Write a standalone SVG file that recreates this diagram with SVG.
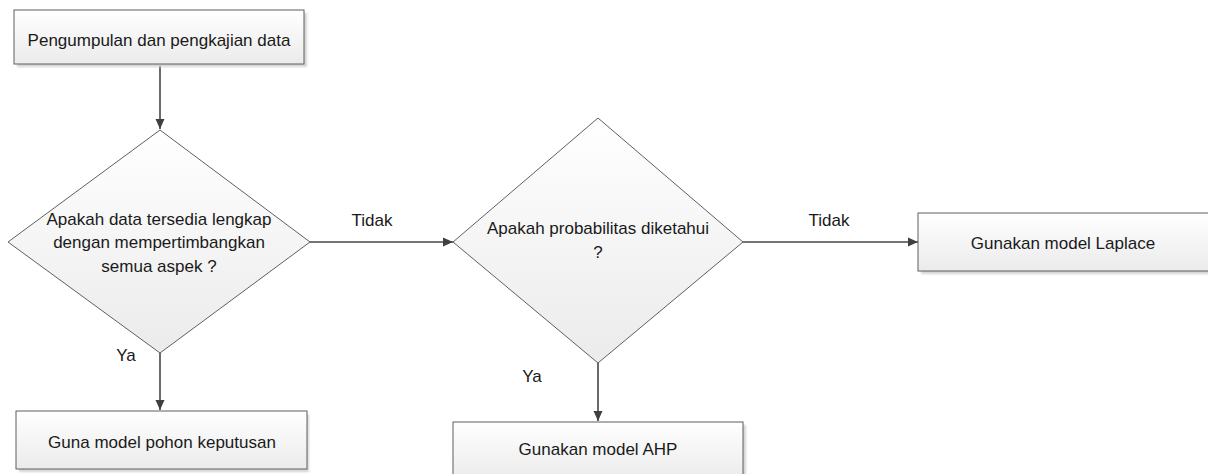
<svg xmlns="http://www.w3.org/2000/svg" width="1208" height="474" viewBox="0 0 1208 474">
  <style>
    .node { stroke: #5f5f5f; stroke-width: 1; fill: url(#fillGrad); }
    .shadow { fill: #d4d4d4; filter: url(#soft); }
    .label { font-family: "Liberation Sans", Arial, sans-serif; font-size: 17px; fill: #1a1a1a; text-anchor: middle; }
    .edge { stroke: #474747; stroke-width: 1.6; fill: none; marker-end: url(#arrow); }
  </style>
  <defs>
    <linearGradient id="fillGrad" x1="0" y1="0" x2="0" y2="1">
      <stop offset="0" stop-color="#ffffff"/>
      <stop offset="1" stop-color="#ebebeb"/>
    </linearGradient>
    <filter id="soft" x="-5%" y="-5%" width="110%" height="120%">
      <feGaussianBlur stdDeviation="1"/>
    </filter>
    <marker id="arrow" markerUnits="userSpaceOnUse" markerWidth="12" markerHeight="12" viewBox="0 0 12 12" refX="11" refY="6" orient="auto">
      <path d="M1,1.5 L11,6 L1,10.5 Z" fill="#404040"/>
    </marker>
  </defs>

  <!-- connectors -->
  <g id="connectors">
    <line class="edge" x1="160" y1="65" x2="160" y2="129"/>
    <line class="edge" x1="160" y1="353" x2="160" y2="410"/>
    <line class="edge" x1="310" y1="242" x2="453" y2="242"/>
    <line class="edge" x1="743" y1="242" x2="918" y2="242"/>
    <line class="edge" x1="598" y1="363" x2="598" y2="421"/>
    <text class="label" x="372" y="226">Tidak</text>
    <text class="label" x="829" y="226">Tidak</text>
    <text class="label" x="126" y="361">Ya</text>
    <text class="label" x="532" y="382">Ya</text>
  </g>

  <!-- start: data collection -->
  <g id="start">
    <rect class="shadow" x="17" y="13" width="290" height="54"/>
    <rect class="node" x="14" y="10" width="290" height="54"/>
    <text class="label" x="159" y="46">Pengumpulan dan pengkajian data</text>
  </g>

  <!-- decision: is the data complete -->
  <g id="decision-data">
    <polygon class="node" points="160,130 310,242 160,353 8,242"/>
    <text class="label" x="159" y="225">Apakah data tersedia lengkap</text>
    <text class="label" x="159" y="248">dengan mempertimbangkan</text>
    <text class="label" x="159" y="272">semua aspek ?</text>
  </g>

  <!-- result: decision tree -->
  <g id="decision-tree">
    <rect class="shadow" x="19" y="414" width="290" height="58"/>
    <rect class="node" x="16" y="411" width="291" height="58"/>
    <text class="label" x="162" y="448">Guna model pohon keputusan</text>
  </g>

  <!-- decision: are probabilities known -->
  <g id="decision-prob">
    <polygon class="node" points="598,118 743,242 598,363 453,242"/>
    <text class="label" x="598" y="234">Apakah probabilitas diketahui</text>
    <text class="label" x="598" y="258">?</text>
  </g>

  <!-- result: AHP -->
  <g id="ahp">
    <rect class="shadow" x="456" y="425" width="290" height="58"/>
    <rect class="node" x="453" y="422" width="290" height="58"/>
    <text class="label" x="598" y="455">Gunakan model AHP</text>
  </g>

  <!-- result: Laplace -->
  <g id="laplace">
    <rect class="shadow" x="921" y="216" width="290" height="58"/>
    <rect class="node" x="918" y="213" width="292" height="58"/>
    <text class="label" x="1063" y="249">Gunakan model Laplace</text>
  </g>
</svg>
